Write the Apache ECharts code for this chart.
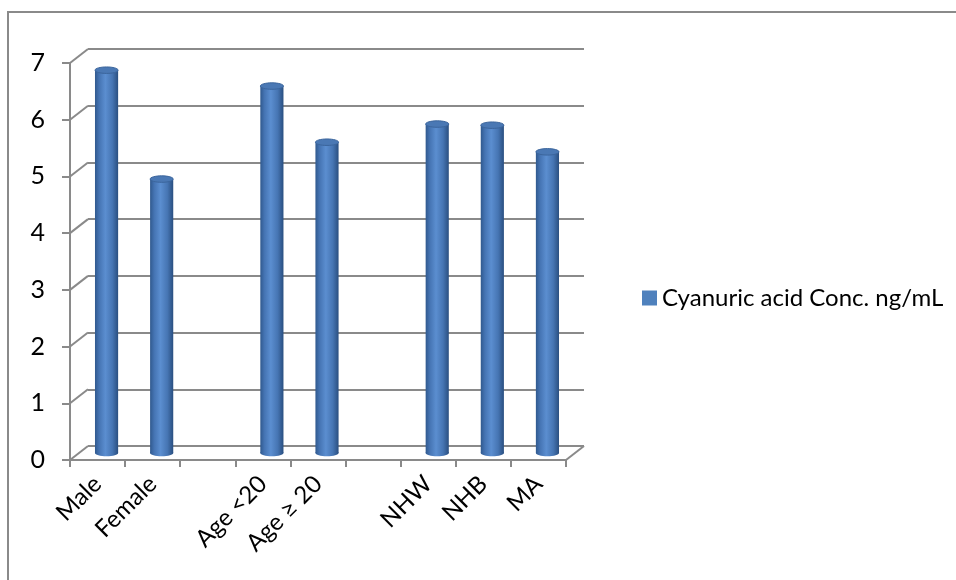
<!DOCTYPE html>
<html>
<head>
<meta charset="utf-8">
<script src="https://cdn.jsdelivr.net/npm/echarts@6/dist/echarts.min.js"></script>
<style>
  html, body { margin: 0; padding: 0; background: #ffffff; }
  #chart { width: 956px; height: 580px; }
</style>
</head>
<body>
<div id="chart"></div>
<script>
// Chart data
const categories = ['Male', 'Female', '', 'Age <20', 'Age \u2265 20', '', 'NHW', 'NHB', 'MA'];
const concValues = [6.75, 4.83, null, 6.47, 5.48, null, 5.80, 5.78, 5.31];
const yTicks = [0, 1, 2, 3, 4, 5, 6, 7];
const seriesName = 'Cyanuric acid Conc. ng/mL';

// Pseudo-3D box: front axes, back wall, and a middle plane for the cylinders
const DEPTH_X = 18;
const DEPTH_Y = -14;
const FRONT = { left: 70, top: 63, width: 496, height: 397 };
const FONT = 'Lato, "Open Sans", sans-serif';
const GRID_COLOR = '#8a8a8a';

const chart = echarts.init(document.getElementById('chart'), null, { renderer: 'canvas' });

function gridAt(f) {
  return { left: FRONT.left + f * DEPTH_X, top: FRONT.top + f * DEPTH_Y,
           width: FRONT.width, height: FRONT.height, containLabel: false };
}

const yBase = { type: 'value', min: 0, max: 7, interval: 1 };

const barData = concValues.map((v, i) => [i, v]);
const diagData = yTicks.map(v => [0, v, 0]).concat([[0, 0, 1]]);

chart.setOption({
  backgroundColor: '#ffffff',
  animation: false,
  grid: [gridAt(0), gridAt(1), gridAt(0.5)],
  legend: {
    data: [seriesName],
    left: 637, top: 281,
    icon: 'rect', itemWidth: 15, itemHeight: 15, itemGap: 6,
    textStyle: { fontFamily: FONT, fontSize: 24, color: '#000000' }
  },
  xAxis: [
    {
      gridIndex: 0, type: 'category', data: categories, boundaryGap: true,
      axisLine: { show: true, lineStyle: { color: GRID_COLOR, width: 2 } },
      axisTick: { show: true, interval: 0, length: 7, lineStyle: { color: GRID_COLOR, width: 2 } },
      axisLabel: { interval: 0, rotate: 45, margin: 20, fontFamily: FONT, fontSize: 24, color: '#000000' },
      splitLine: { show: false }
    },
    { gridIndex: 1, type: 'category', data: categories, show: false },
    { gridIndex: 2, type: 'category', data: categories, show: false }
  ],
  yAxis: [
    Object.assign({}, yBase, {
      gridIndex: 0,
      axisLine: { show: true, lineStyle: { color: GRID_COLOR, width: 2 } },
      axisTick: { show: true, length: 8, lineStyle: { color: GRID_COLOR, width: 2 } },
      axisLabel: { margin: 25, fontFamily: FONT, fontSize: 25, color: '#000000' },
      splitLine: { show: false }
    }),
    Object.assign({}, yBase, {
      gridIndex: 1,
      axisLine: { show: false }, axisTick: { show: false }, axisLabel: { show: false },
      splitLine: { show: true, lineStyle: { color: GRID_COLOR, width: 2 } }
    }),
    Object.assign({}, yBase, { gridIndex: 2, show: false })
  ],
  graphic: [{
    type: 'rect', silent: true,
    shape: { x: 8, y: 12, width: 1000, height: 1000 },
    style: { fill: 'none', stroke: '#8a8a8a', lineWidth: 2 }
  }],
  series: [
    {
      // depth edges joining the front axes to the back wall
      type: 'custom', xAxisIndex: 0, yAxisIndex: 0, silent: true,
      data: diagData,
      renderItem: function (params, api) {
        const cs = params.coordSys;
        const p = api.coord([0, api.value(1)]);
        const x0 = api.value(2) ? cs.x + cs.width : cs.x;
        return {
          type: 'line',
          shape: { x1: x0, y1: p[1], x2: x0 + DEPTH_X, y2: p[1] + DEPTH_Y },
          style: { stroke: GRID_COLOR, lineWidth: 2 }
        };
      },
      z: 1
    },
    {
      name: seriesName,
      type: 'custom', xAxisIndex: 2, yAxisIndex: 2,
      itemStyle: { color: '#4f81bd' },
      data: barData,
      renderItem: function (params, api) {
        const v = api.value(1);
        if (v == null || isNaN(v)) return null;
        const idx = api.value(0);
        const top = api.coord([idx, v]);
        const base = api.coord([idx, 0]);
        const w = api.size([1, 0])[0] * 0.42;
        const rx = w / 2;
        const ry = w * 0.14;
        const cx = top[0];
        const side = new echarts.graphic.LinearGradient(0, 0, 1, 0, [
          { offset: 0, color: '#30598e' },
          { offset: 0.18, color: '#4574b3' },
          { offset: 0.45, color: '#5b8ed0' },
          { offset: 0.75, color: '#4675b3' },
          { offset: 1, color: '#2a4f80' }
        ]);
        return {
          type: 'group',
          children: [
            { type: 'ellipse', shape: { cx: cx, cy: base[1], rx: rx, ry: ry }, style: { fill: side } },
            { type: 'rect', shape: { x: cx - rx, y: top[1], width: w, height: base[1] - top[1] }, style: { fill: side } },
            { type: 'ellipse', shape: { cx: cx, cy: top[1], rx: rx, ry: ry },
              style: { fill: '#4a78b4', stroke: '#3b659c', lineWidth: 1 } }
          ]
        };
      },
      z: 3
    }
  ]
});
</script>
</body>
</html>
